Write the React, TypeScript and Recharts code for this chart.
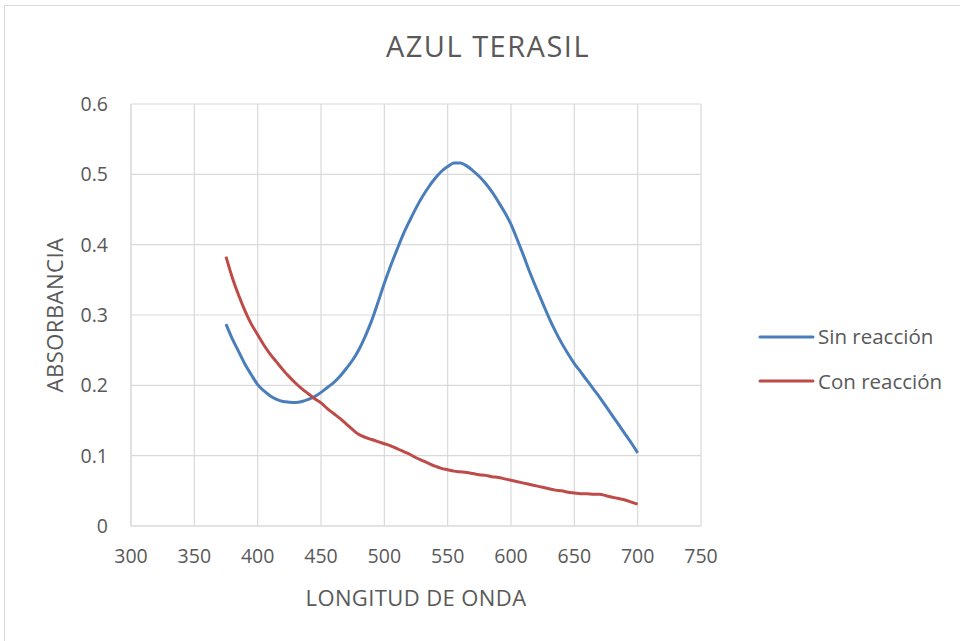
import React from 'react';
import { LineChart, Line, XAxis, YAxis, CartesianGrid } from 'recharts';

const wavelengths = [
  375, 380, 385, 390, 395, 400, 405, 410, 415, 420, 425, 430, 435, 440, 445, 450,
  455, 460, 465, 470, 475, 480, 485, 490, 495, 500, 505, 510, 515, 520, 525, 530,
  535, 540, 545, 550, 555, 560, 565, 570, 575, 580, 585, 590, 595, 600, 605, 610,
  615, 620, 625, 630, 635, 640, 645, 650, 655, 660, 665, 670, 675, 680, 685, 690,
  695, 700,
];

const sinReaccion = [
  0.287, 0.266, 0.248, 0.23, 0.215, 0.201, 0.192, 0.185, 0.18, 0.177, 0.176, 0.1755,
  0.177, 0.18, 0.184, 0.19, 0.197, 0.204, 0.213, 0.224, 0.236, 0.251, 0.27, 0.292,
  0.318, 0.345, 0.37, 0.393, 0.415, 0.434, 0.452, 0.468, 0.482, 0.494, 0.504, 0.511,
  0.516, 0.516, 0.512, 0.505, 0.497, 0.487, 0.475, 0.461, 0.446, 0.429, 0.407, 0.384,
  0.36, 0.338, 0.317, 0.296, 0.277, 0.26, 0.245, 0.231, 0.219, 0.207, 0.195, 0.183,
  0.17, 0.157, 0.144, 0.131, 0.118, 0.104,
];

const conReaccion = [
  0.383, 0.353, 0.328, 0.306, 0.287, 0.272, 0.257, 0.244, 0.233, 0.222, 0.212, 0.203,
  0.195, 0.188, 0.181, 0.175, 0.167, 0.16, 0.153, 0.145, 0.137, 0.13, 0.126, 0.123,
  0.12, 0.117, 0.114, 0.11, 0.106, 0.102, 0.097, 0.093, 0.089, 0.085, 0.082, 0.08,
  0.078, 0.077, 0.076, 0.0745, 0.073, 0.072, 0.07, 0.069, 0.067, 0.065, 0.063, 0.061,
  0.059, 0.057, 0.055, 0.053, 0.051, 0.05, 0.048, 0.047, 0.046, 0.046, 0.045, 0.045,
  0.043, 0.041, 0.039, 0.037, 0.034, 0.031,
];

const xTicks = [300, 350, 400, 450, 500, 550, 600, 650, 700, 750];
const yTicks = [0, 0.1, 0.2, 0.3, 0.4, 0.5, 0.6];

const rows = wavelengths.map((wl, i) => ({ wl, sin: sinReaccion[i], con: conReaccion[i] }));

const FONT = '"Open Sans", sans-serif';
const TEXT = '#595959';
const GRID = '#d9d9d9';
const BLUE = '#4a7ebb';
const RED = '#be4b48';

export default function App() {
  return (
    <div style={{ position: 'fixed', left: 0, top: 0, width: 960, height: 641, background: '#fff', overflow: 'hidden' }}>
      <div style={{ position: 'absolute', left: 4, top: 5, width: 1000, height: 700, border: `1px solid ${GRID}` }} />
      <div style={{ position: 'absolute', left: 0, top: 0 }}>
        <LineChart width={960} height={641} data={rows} margin={{ top: 104, right: 259, bottom: 85, left: 0 }}>
          <CartesianGrid stroke={GRID} strokeWidth={1.2} />
          <XAxis
            dataKey="wl"
            type="number"
            domain={[300, 750]}
            ticks={xTicks}
            height={30}
            stroke={GRID}
            tickLine={false}
            tickMargin={17}
            tick={{ fill: TEXT, fontSize: 19.5, fontFamily: FONT }}
          />
          <YAxis
            type="number"
            domain={[0, 0.6]}
            ticks={yTicks}
            width={131}
            stroke={GRID}
            tickLine={false}
            tickMargin={17}
            tick={{ fill: TEXT, fontSize: 19.5, fontFamily: FONT }}
          />
          <Line type="monotone" dataKey="sin" stroke={BLUE} strokeWidth={3} dot={false} isAnimationActive={false} />
          <Line type="monotone" dataKey="con" stroke={RED} strokeWidth={3} dot={false} isAnimationActive={false} />
        </LineChart>
      </div>
      <svg width={960} height={641} style={{ position: 'absolute', left: 0, top: 0, pointerEvents: 'none' }}>
        <g fontFamily={FONT} fill={TEXT}>
          <text x={488} y={57} textAnchor="middle" fontSize={29} letterSpacing={1.5}>AZUL TERASIL</text>
          <text x={416} y={606} textAnchor="middle" fontSize={22} letterSpacing={0.4}>LONGITUD DE ONDA</text>
          <text x={63} y={315} textAnchor="middle" fontSize={22} letterSpacing={0.5} transform="rotate(-90 63 315)">ABSORBANCIA</text>
          <line x1={760} y1={337} x2={813} y2={337} stroke={BLUE} strokeWidth={3} strokeLinecap="round" />
          <text x={818} y={344} fontSize={20.5}>Sin reacción</text>
          <line x1={760} y1={381} x2={813} y2={381} stroke={RED} strokeWidth={3} strokeLinecap="round" />
          <text x={818} y={389} fontSize={20.5}>Con reacción</text>
        </g>
      </svg>
    </div>
  );
}
